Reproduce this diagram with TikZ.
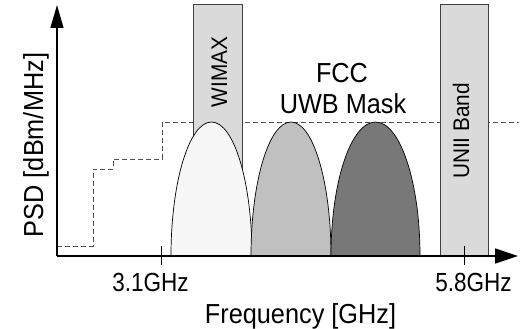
\documentclass[tikz,border=0pt]{standalone}
\usepackage{fontspec}
\setmainfont[FakeStretch=0.92]{Liberation Sans}
\newfontfamily\tickfont[FakeStretch=0.86]{Liberation Sans}
\usetikzlibrary{arrows.meta}
\definecolor{boxfill}{HTML}{DADADA}
\definecolor{boxline}{HTML}{404040}
\definecolor{bellA}{HTML}{F7F7F7}
\definecolor{bellB}{HTML}{C0C0C0}
\definecolor{bellC}{HTML}{787878}
\definecolor{maskcol}{HTML}{505050}
\begin{document}
\begin{tikzpicture}[x=1pt,y=-1pt,
  band/.style={fill=boxfill,draw=boxline,line width=1pt},
  bell/.style={draw=black,line width=0.7pt},
  maskline/.style={draw=maskcol,line width=1pt,dash pattern=on 5pt off 3pt},
  axisline/.style={draw=black,line width=1.3pt},
  tickline/.style={draw=black,line width=1pt},
  lbl/.style={inner sep=0pt,anchor=base},
  big/.style={font=\fontsize{27.5}{27.5}\selectfont},
  mid/.style={font=\tickfont\fontsize{26.2}{26.2}\selectfont},
  small/.style={font=\fontsize{22.6}{22.6}\selectfont},
]
\useasboundingbox (0,0) rectangle (522,329);
\coordinate (o) at (57,256);
\coordinate (ytop) at (57,5);
\coordinate (xend) at (518,256);
% FCC mask
\draw[maskline] (57,246) -- (93,246) -- (93,169) -- (113,169) -- (113,159) -- (162,159) -- (162,122) -- (519,122);
% bands
\draw[band] (193,256) rectangle (242,5);
\draw[band] (440,256) rectangle (488,5);
% bells
\draw[bell,fill=bellA] (171,256) arc[start angle=180,end angle=360,x radius=40.5,y radius=134] -- cycle;
\draw[bell,fill=bellB] (251,256) arc[start angle=180,end angle=360,x radius=40,y radius=134] -- cycle;
\draw[bell,fill=bellC] (331,256) arc[start angle=180,end angle=360,x radius=44.5,y radius=134] -- cycle;
% axes
\draw[axisline,-{Triangle[length=23pt,width=13pt]}] (o) -- (ytop);
\draw[axisline,-{Triangle[length=23pt,width=15pt]}] (o) -- (xend);
% ticks
\coordinate (t1a) at (161,246); \coordinate (t1b) at (161,265);
\coordinate (t2a) at (464,246); \coordinate (t2b) at (464,265);
\draw[tickline] (t1a) -- (t1b);
\draw[tickline] (t2a) -- (t2b);
% labels
\node[lbl,mid] (l31) at (150.5,291) {3.1GHz};
\node[lbl,mid] (l58) at (473.5,291) {5.8GHz};
\node[lbl,big] (lf) at (300.5,323) {Frequency [GHz]};
\node[lbl,big,rotate=90] (lp) at (43,145) {PSD [dBm/MHz]};
\node[lbl,big] (lfcc) at (342,82) {FCC};
\node[lbl,big] (luwb) at (343,113) {UWB Mask};
\node[lbl,small,rotate=90] (lw) at (227,72) {WIMAX};
\node[lbl,small,rotate=90] (lu) at (469,131) {UNII Band};
\end{tikzpicture}
\end{document}
